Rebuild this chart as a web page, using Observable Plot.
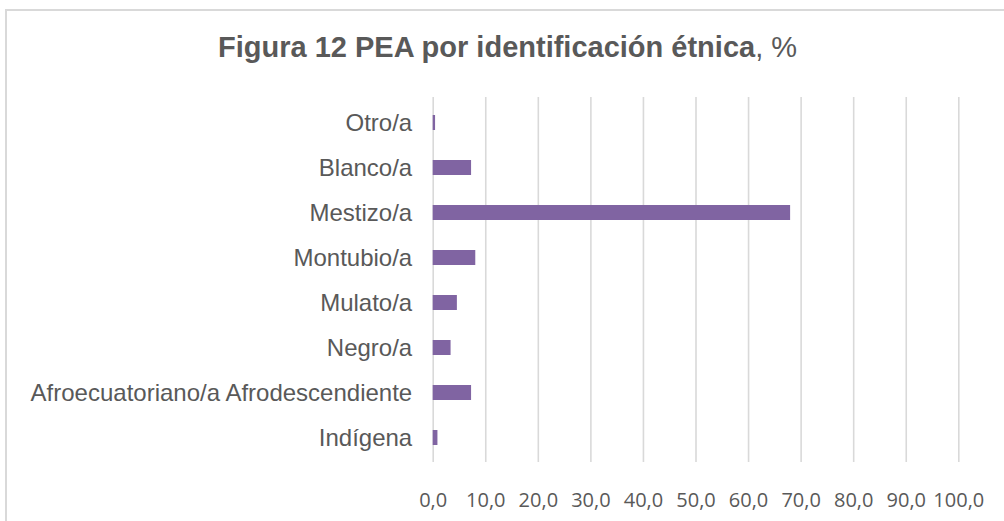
<!DOCTYPE html>
<html>
<head>
<meta charset="utf-8">
<script src="https://cdn.jsdelivr.net/npm/d3@7"></script>
<script src="https://cdn.jsdelivr.net/npm/@observablehq/plot@0.6"></script>
<style>
  html, body { margin: 0; padding: 0; background: #fff; }
  #wrap { position: relative; width: 1004px; height: 521px; overflow: hidden; background: #fff; }
  #frame { position: absolute; left: 4.5px; top: 8.5px; width: 1100px; height: 700px; border: 2px solid #d9d9d9; box-sizing: border-box; }
  #title { position: absolute; left: 218px; top: 32.5px; font-family: "Liberation Sans", Arial, sans-serif; font-size: 29px; line-height: 29px; color: #595959; white-space: nowrap; }
  #title b { font-weight: bold; }
  #chart { position: absolute; left: 0; top: 80px; }
</style>
</head>
<body>
<div id="wrap">
  <div id="frame"></div>
  <div id="title"><b>Figura 12 PEA por identificación étnica</b>, %</div>
  <div id="chart"></div>
</div>
<script>
// Categories, top to bottom as shown
const categories = ["Otro/a", "Blanco/a", "Mestizo/a", "Montubio/a", "Mulato/a", "Negro/a", "Afroecuatoriano/a Afrodescendiente", "Indígena"];
// Percentages
const values = [0.45, 7.3, 68.0, 8.1, 4.6, 3.4, 7.3, 0.9];
// X tick values
const xTicks = [0, 10, 20, 30, 40, 50, 60, 70, 80, 90, 100];

const data = categories.map((c, i) => ({category: c, value: values[i]}));

const chart = Plot.plot({
  width: 1004,
  height: 441,
  marginTop: 17,
  marginBottom: 59,
  marginLeft: 432.7,
  marginRight: 45.7,
  style: {fontFamily: "'Liberation Sans', Arial, sans-serif", color: "#595959", background: "transparent"},
  x: {domain: [0, 100], ticks: xTicks},
  y: {domain: categories, padding: 0},
  marks: [
    Plot.gridX(xTicks, {stroke: "#d9d9d9", strokeOpacity: 1, strokeWidth: 1.6}),
    Plot.barX(data, {y: "category", x: "value", fill: "#8064a2", insetTop: 15, insetBottom: 15}),
    Plot.axisX({ticks: xTicks, tickSize: 0, tickPadding: 30, label: null,
      tickFormat: d => d.toFixed(1).replace(".", ","),
      fontFamily: "'Open Sans', sans-serif", fontSize: 20, fill: "#595959"}),
    Plot.axisY({tickSize: 0, tickPadding: 21, label: null, fontSize: 24, fill: "#595959"})
  ]
});
document.getElementById("chart").appendChild(chart);
</script>
</body>
</html>
